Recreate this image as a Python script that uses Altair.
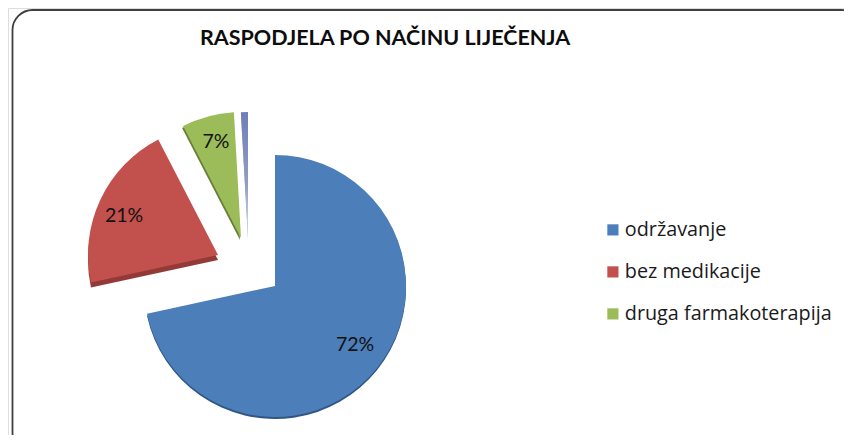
import altair as alt
import pandas as pd

TITLE = "RASPODJELA PO NAČINU LIJEČENJA"
categories = ["održavanje", "bez medikacije", "druga farmakoterapija", "ostalo"]
shares = [71.6, 20.8, 6.7, 0.9]
labels = ["72%", "21%", "7%", ""]
colors = ["#4C7EB9", "#C2504D", "#9CBB59"]
shadow_colors = ["#2F5685", "#933A38", "#66803A", "#9AA3C4"]

starts, ends, total = [], [], 0.0
for s in shares:
    starts.append(total)
    total += s
    ends.append(total)

df = pd.DataFrame({"kategorija": categories, "udio": shares, "start": starts, "end": ends, "oznaka": labels})

# slice centre (chart px), radius, depth
geom = [(267, 278, 131, 2), (210, 247, 130, 5), (233, 230, 126, 2), (240, 230, 126, 1)]
label_pos = [(347, 337), (116, 208), (208, 134)]

theta_scale = alt.Scale(domain=[0, 100], range=[0, 6.28318530718])
layers = []

card = alt.Chart(pd.DataFrame({"a": [0]})).mark_rect(
    fill="transparent", stroke="#3f3f3f", strokeWidth=1.8, cornerRadius=20
).encode(x=alt.value(4.5), x2=alt.value(853), y=alt.value(2), y2=alt.value(445))
layers.append(card)

for i, (cx, cy, r, d) in enumerate(geom):
    sub = df[df.kategorija == categories[i]]
    layers.append(
        alt.Chart(sub).mark_arc(radius=r, color=shadow_colors[i]).encode(
            theta=alt.Theta("start:Q", scale=theta_scale, stack=None),
            theta2="end:Q",
            x=alt.value(cx - (1 if i == 2 else 0)),
            y=alt.value(cy + d),
        )
    )

for i, (cx, cy, r, d) in enumerate(geom):
    sub = df[df.kategorija == categories[i]]
    if i < 3:
        mark = alt.Chart(sub).mark_arc(radius=r).encode(
            theta=alt.Theta("start:Q", scale=theta_scale, stack=None),
            theta2="end:Q",
            x=alt.value(cx),
            y=alt.value(cy),
            color=alt.Color(
                "kategorija:N",
                scale=alt.Scale(domain=categories[:3], range=colors),
                legend=alt.Legend(
                    title=None,
                    orient="none",
                    legendX=595,
                    legendY=212,
                    symbolType="square",
                    symbolSize=125,
                    symbolStrokeWidth=0,
                    symbolOpacity=1,
                    labelFont="Open Sans",
                    labelFontSize=19.8,
                    labelColor="#1a1a1a",
                    labelOffset=2,
                    labelLimit=300,
                    rowPadding=21,
                    padding=0,
                    values=categories[:3],
                ),
            ),
        )
    else:
        mark = alt.Chart(sub).mark_arc(
            radius=r,
            fill=alt.Gradient(
                gradient="linear",
                x1=0, y1=0, x2=0, y2=1,
                stops=[
                    alt.GradientStop(offset=0, color="#6E7DB8"),
                    alt.GradientStop(offset=0.6, color="#93A0C4"),
                    alt.GradientStop(offset=1, color="#E2E6EC"),
                ],
            ),
        ).encode(
            theta=alt.Theta("start:Q", scale=theta_scale, stack=None),
            theta2="end:Q",
            x=alt.value(cx),
            y=alt.value(cy),
        )
    layers.append(mark)

for i, (lx, ly) in enumerate(label_pos):
    sub = df[df.kategorija == categories[i]]
    layers.append(
        alt.Chart(sub).mark_text(font="Lato", fontSize=19.5, color="#111111").encode(
            text="oznaka:N", x=alt.value(lx), y=alt.value(ly)
        )
    )

chart = (
    alt.layer(*layers)
    .properties(
        width=836,
        height=427,
        padding=0,
        autosize=alt.AutoSizeParams(type="none"),
        title=alt.TitleParams(
            TITLE,
            anchor="start",
            frame="group",
            dx=192,
            offset=-58,
            font="Lato",
            fontSize=21.5,
            fontWeight="bold",
            color="#0d0d0d",
            baseline="alphabetic",
            zindex=1,
        ),
    )
    .configure_view(stroke=None)
    .configure(background="white")
)

chart.save("out.html", embed_options={"renderer": "svg", "actions": False})
